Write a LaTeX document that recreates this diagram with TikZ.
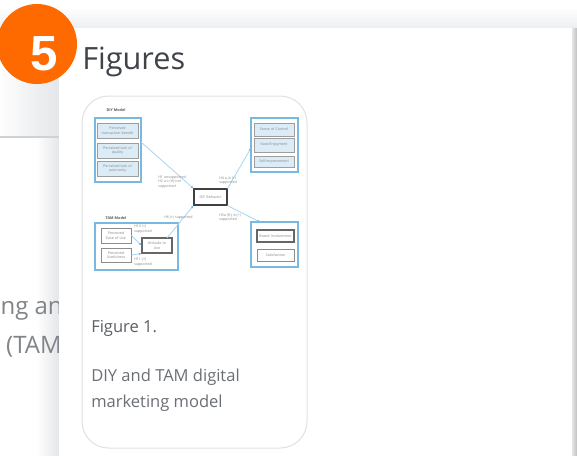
\documentclass[tikz,border=0pt]{standalone}
\usepackage{fontspec}
\setmainfont{Open Sans}
\newfontfamily\badgefont{Liberation Sans}
\usetikzlibrary{arrows.meta}
\definecolor{blueedge}{HTML}{7AB9DF}
\definecolor{bluefill}{HTML}{DCECF7}
\definecolor{inkgrey}{HTML}{3F444A}
\definecolor{softgrey}{HTML}{6B6F74}
\definecolor{shade}{HTML}{E4E6E9}
\definecolor{cardline}{HTML}{DFE1E3}
\definecolor{orangebadge}{HTML}{FF6A00}
\definecolor{linkblue}{HTML}{A9D6F0}
\definecolor{tinygrey}{HTML}{85878A}
\tikzset{
  x=0.75pt,y=-0.75pt,
  group/.style={draw=blueedge,line width=1pt,fill=white},
  tiny/.style={font=\fontsize{2.7pt}{3.4pt}\selectfont,text=tinygrey,align=left,inner sep=0pt},
  tinyc/.style={tiny,align=center},
  tinyb/.style={tiny,text=black!65,font=\fontsize{2.8pt}{3.4pt}\selectfont\bfseries},
  bluebox/.style={draw=black!38,line width=0.7pt,fill=bluefill,tinyc},
  plainbox/.style={draw=black!45,line width=0.7pt,fill=white,tinyc},
  midbox/.style={draw=black!60,line width=0.8pt,fill=white,tinyc},
  darkbox/.style={draw=black!75,line width=0.85pt,fill=white,tinyc},
  link/.style={draw=linkblue,line width=0.6pt,-{Latex[length=2pt,width=2pt,color=blueedge]}},
  captext/.style={inner sep=0pt,anchor=west,text=softgrey,font=\fontsize{12.4pt}{14pt}\selectfont},
  cliptext/.style={anchor=east,inner sep=0pt,text=softgrey!85,font=\fontsize{18pt}{20pt}\selectfont}
}
\newcommand{\boxat}[6]{\node[#1,minimum width=#4*0.75pt,minimum height=#5*0.75pt,text width=#4*0.7pt] (#2) at (#3) {#6};}
\begin{document}
\begin{tikzpicture}
\useasboundingbox (0,0) rectangle (577,455);
\fill[white] (0,0) rectangle (577,455);
% page backdrop
\fill[left color=white,right color=shade] (36,137) rectangle (59,455);
\fill[top color=white,bottom color=shade!65] (0,6) rectangle (577,28);
\fill[left color=white!95!shade,right color=shade] (0,28) rectangle (59,137);
\draw[black!18,line width=0.9pt] (0,137) -- (59,137);
\fill[left color=shade,right color=black!25] (572,28) rectangle (577,455);
\node[cliptext] (clipa) at (63,311) {ng an};
\node[cliptext] (clipb) at (62,347) {(TAM};
% white panel
\fill[white] (59,28) rectangle (572,455);
% badge
\node[circle,fill=orangebadge,minimum size=60pt,inner sep=0pt] (badge) at (37,44) {};
\node[inner sep=0pt,text=white,font=\fontsize{37pt}{40pt}\selectfont\bfseries\badgefont] (digit) at (44,53.5) {5};
\node[inner sep=0pt,anchor=west,text=inkgrey,font=\fontsize{23pt}{26pt}\selectfont] (title) at (82,62) {Figures};
% card
\draw[cardline,line width=0.75pt,fill=white,rounded corners=20pt] (82,96) rectangle (307,448);
% groups
\draw[group] (95,118) rectangle (141,182);
\draw[group] (251,118) rectangle (298,172);
\draw[group] (95,223) rectangle (178,270);
\draw[group] (251,222) rectangle (298,267);
\node[tinyb] (diy) at (116,110) {DIY Model};
\node[tinyb] (tam) at (116,218) {TAM Model};
% left DIY boxes
\boxat{bluebox}{a1}{117.5,130.5}{41}{15}{Perceived\\transaction benefit}
\boxat{bluebox}{a2}{117.5,150.5}{41}{15}{Perceived lack of\\quality}
\boxat{bluebox}{a3}{117.5,168.5}{41}{15}{Perceived lack of\\autonomy}
% right top boxes
\boxat{bluebox}{b1}{274,129.5}{40}{13}{Sense of Control}
\boxat{bluebox}{b2}{274,145}{40}{14}{Ease/Enjoyment}
\boxat{bluebox}{b3}{274,161.5}{40}{11}{Self-improvement}
% centre
\boxat{darkbox}{c}{210.5,197}{33}{16}{DIY Behavior}
% TAM
\boxat{plainbox}{t1}{116,235.5}{30}{15}{Perceived\\Ease of Use}
\boxat{plainbox}{t2}{116,255}{30}{14}{Perceived\\Usefulness}
\boxat{midbox}{t3}{157,245.5}{30}{15}{Attitude to\\Use}
% right bottom
\boxat{midbox}{d1}{275.5,236}{37}{12}{Brand Involvement}
\boxat{plainbox}{d2}{275.5,255}{37}{12}{Satisfaction}
% anchors for the groups
\coordinate (gdiy) at (141,142);
\coordinate (gsc) at (251,148);
\coordinate (gbr) at (260,222);
\coordinate (tamout) at (167,238);
% links
\draw[link] (gdiy) -- (c.north west);
\draw[link] (c.north east) -- (gsc);
\draw[link] (c.south east) -- (gbr);
\draw[link] (tamout) -- (c.south west);
\draw[link] (t1.east) -- (t3.west);
\draw[link] (t2.east) -- (t3.south west);
% link labels
\node[tiny,anchor=north west] (l1) at (158,175) {H1 unsupported\\H2 a-c (H) not\\supported};
\node[tiny,anchor=north west] (l2) at (219,176) {H4 a, b (+)\\supported};
\node[tiny,anchor=north west] (l3) at (219,213) {H5a (H), b (+)\\supported};
\node[tiny,anchor=north west] (l4) at (164,215) {H6 (+) supported};
\node[tiny,anchor=north west] (l5) at (134,225) {H10 (+)\\supported};
\node[tiny,anchor=north west] (l6) at (134,258) {H11 (+)\\supported};
% caption
\node[captext,text=inkgrey!85] (f1) at (91,328.5) {Figure 1.};
\node[captext] (f2) at (91,377.5) {DIY and TAM digital};
\node[captext] (f3) at (91,403.5) {marketing model};
\end{tikzpicture}
\end{document}
